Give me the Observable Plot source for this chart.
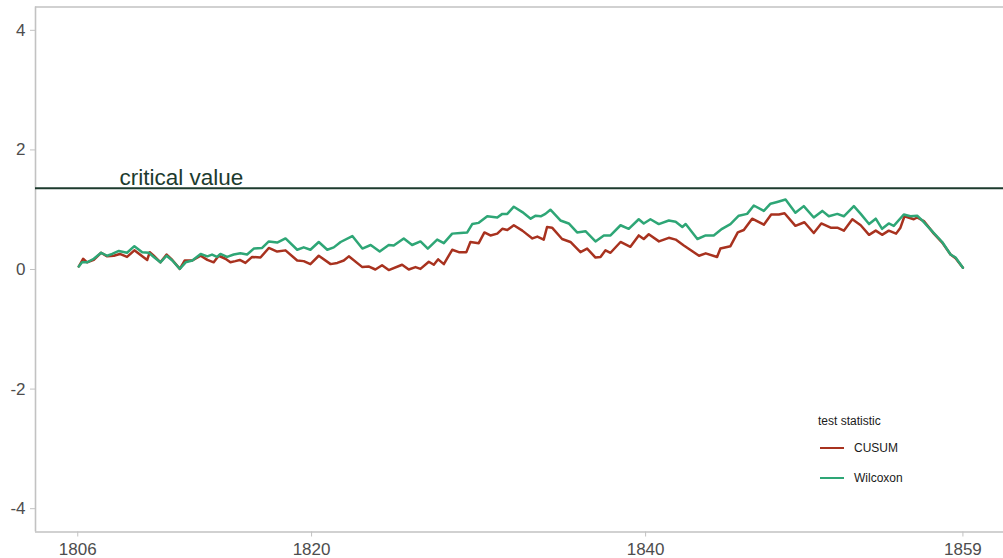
<!DOCTYPE html>
<html>
<head>
<meta charset="utf-8">
<script src="https://cdn.jsdelivr.net/npm/d3@7"></script>
<script src="https://cdn.jsdelivr.net/npm/@observablehq/plot@0.6"></script>
<style>
  html, body { margin: 0; padding: 0; background: #fff; }
  #chart { position: relative; width: 1003px; height: 558px; font-family: "Liberation Sans", Arial, sans-serif; }
  #legend { position: absolute; left: 818px; top: 414px; font-size: 12px; color: #1a1a1a; }
  #legend .title { margin-bottom: 5px; }
  #legend .item { display: flex; align-items: center; height: 30px; }
  #legend .swatch { width: 24px; height: 2.5px; margin-left: 2px; margin-right: 10px; }
</style>
</head>
<body>
<div id="chart"></div>
<script>
// Structural-change test statistics, 1806–1859
const cusumYears = [
  1806.06, 1806.32, 1806.56, 1806.96, 1807.40, 1807.76, 1808.16, 1808.52, 1808.95, 1809.39,
  1810.16, 1810.31, 1810.55, 1810.95, 1811.32, 1811.66, 1812.11, 1812.40, 1812.86, 1813.36,
  1813.76, 1814.14, 1814.44, 1814.84, 1815.14, 1815.44, 1815.70, 1816.04, 1816.44, 1816.94,
  1817.44, 1817.94, 1818.44, 1819.14, 1819.53, 1819.93, 1820.43, 1821.14, 1821.54, 1821.93,
  1822.23, 1823.04, 1823.44, 1823.82, 1824.22, 1824.62, 1825.42, 1825.82, 1826.22, 1826.52,
  1827.02, 1827.32, 1827.58, 1827.92, 1828.42, 1828.82, 1829.27, 1829.51, 1830.01, 1830.35,
  1830.71, 1831.12, 1831.42, 1831.72, 1832.11, 1832.62, 1833.22, 1833.52, 1833.90, 1834.10,
  1834.40, 1835.00, 1835.50, 1836.10, 1836.50, 1837.00, 1837.30, 1837.60, 1837.90, 1838.50,
  1839.09, 1839.59, 1839.89, 1840.19, 1840.80, 1841.39, 1841.80, 1842.29, 1843.20, 1843.60,
  1844.28, 1844.48, 1845.08, 1845.52, 1845.88, 1846.38, 1847.08, 1847.52, 1847.98, 1848.32,
  1848.97, 1849.51, 1850.07, 1850.52, 1851.08, 1851.48, 1851.87, 1852.38, 1852.88, 1853.38,
  1853.78, 1854.16, 1854.56, 1855.00, 1855.26, 1855.50, 1856.06, 1856.26, 1856.66, 1857.26,
  1857.76, 1858.26, 1858.56, 1859.00
];
const cusumValues = [
  0.05, 0.18, 0.12, 0.16, 0.28, 0.22, 0.23, 0.26, 0.21, 0.32,
  0.16, 0.29, 0.23, 0.12, 0.25, 0.16, 0.01, 0.15, 0.15, 0.23,
  0.16, 0.12, 0.23, 0.18, 0.12, 0.14, 0.16, 0.11, 0.21, 0.20,
  0.36, 0.30, 0.32, 0.15, 0.14, 0.09, 0.23, 0.09, 0.11, 0.15,
  0.22, 0.04, 0.05, 0.00, 0.07, -0.01, 0.08, 0.00, 0.04, 0.01,
  0.13, 0.08, 0.17, 0.09, 0.33, 0.29, 0.29, 0.46, 0.44, 0.62,
  0.57, 0.60, 0.68, 0.66, 0.74, 0.65, 0.52, 0.55, 0.50, 0.71,
  0.70, 0.51, 0.46, 0.29, 0.35, 0.20, 0.21, 0.32, 0.28, 0.46,
  0.38, 0.57, 0.51, 0.59, 0.47, 0.53, 0.50, 0.40, 0.23, 0.27,
  0.21, 0.35, 0.39, 0.62, 0.66, 0.85, 0.75, 0.92, 0.92, 0.94,
  0.73, 0.79, 0.61, 0.77, 0.70, 0.70, 0.65, 0.84, 0.74, 0.58,
  0.65, 0.58, 0.65, 0.60, 0.70, 0.89, 0.84, 0.87, 0.81, 0.60,
  0.45, 0.25, 0.19, 0.03
];

const wilcoxonYears = [
  1806.06, 1806.26, 1806.56, 1806.96, 1807.40, 1807.76, 1808.06, 1808.46, 1808.95, 1809.39,
  1809.86, 1810.25, 1810.55, 1810.95, 1811.32, 1811.66, 1812.11, 1812.46, 1812.86, 1813.36,
  1813.76, 1814.04, 1814.34, 1814.54, 1814.94, 1815.34, 1815.74, 1816.14, 1816.54, 1817.04,
  1817.44, 1817.94, 1818.44, 1819.14, 1819.53, 1819.93, 1820.43, 1820.94, 1821.33, 1821.74,
  1822.44, 1823.04, 1823.54, 1824.08, 1824.62, 1824.92, 1825.52, 1826.02, 1826.52, 1826.96,
  1827.52, 1827.92, 1828.42, 1828.91, 1829.32, 1829.62, 1830.01, 1830.52, 1831.12, 1831.42,
  1831.72, 1832.11, 1832.62, 1833.12, 1833.42, 1833.72, 1834.00, 1834.30, 1834.90, 1835.40,
  1835.90, 1836.40, 1837.00, 1837.50, 1837.90, 1838.50, 1838.99, 1839.59, 1839.89, 1840.29,
  1840.79, 1841.39, 1841.80, 1842.20, 1842.40, 1843.10, 1843.60, 1844.08, 1844.58, 1845.08,
  1845.58, 1846.08, 1846.48, 1847.08, 1847.48, 1847.88, 1848.38, 1848.97, 1849.47, 1850.07,
  1850.58, 1850.97, 1851.48, 1851.87, 1852.47, 1852.88, 1853.38, 1853.78, 1854.16, 1854.56,
  1854.86, 1855.46, 1855.86, 1856.26, 1856.56, 1857.26, 1857.76, 1858.26, 1858.56, 1859.00
];
const wilcoxonValues = [
  0.05, 0.12, 0.12, 0.18, 0.28, 0.23, 0.26, 0.31, 0.28, 0.39,
  0.29, 0.28, 0.21, 0.12, 0.23, 0.15, 0.01, 0.12, 0.15, 0.26,
  0.22, 0.25, 0.21, 0.26, 0.21, 0.25, 0.27, 0.25, 0.35, 0.36,
  0.47, 0.45, 0.52, 0.33, 0.37, 0.33, 0.46, 0.33, 0.37, 0.46,
  0.56, 0.35, 0.41, 0.30, 0.41, 0.40, 0.52, 0.41, 0.47, 0.35,
  0.50, 0.44, 0.60, 0.61, 0.62, 0.76, 0.78, 0.89, 0.87, 0.93,
  0.93, 1.05, 0.96, 0.85, 0.90, 0.89, 0.93, 1.00, 0.82, 0.77,
  0.62, 0.64, 0.47, 0.57, 0.57, 0.74, 0.68, 0.84, 0.77, 0.84,
  0.76, 0.82, 0.80, 0.71, 0.76, 0.51, 0.57, 0.57, 0.68, 0.76,
  0.90, 0.93, 1.07, 0.98, 1.10, 1.13, 1.17, 0.95, 1.06, 0.87,
  0.98, 0.89, 0.93, 0.89, 1.06, 0.93, 0.76, 0.85, 0.68, 0.77,
  0.73, 0.92, 0.89, 0.90, 0.82, 0.61, 0.46, 0.25, 0.20, 0.03
];

const seriesNames = ["CUSUM", "Wilcoxon"];
const seriesColors = ["#a8321f", "#2ea676"];
const criticalValue = 1.358;
const criticalLabel = "critical value";
const criticalLabelYear = 1812.2;
const xTicks = [1806, 1820, 1840, 1859];
const yTicks = [-4, -2, 0, 2, 4];
const xDomain = [1803.47, 1861.43];
const yDomain = [-4.39, 4.39];

const rows = [
  ...cusumYears.map((t, i) => ({series: seriesNames[0], year: t, value: cusumValues[i]})),
  ...wilcoxonYears.map((t, i) => ({series: seriesNames[1], year: t, value: wilcoxonValues[i]}))
];

const axisGrey = "#c2c2c2";
const labelGrey = "#4d4d4d";
const critColor = "#1d3b2e";

const chart = Plot.plot({
  width: 1003,
  height: 558,
  marginLeft: 35,
  marginRight: 0,
  marginTop: 6.5,
  marginBottom: 26.5,
  style: {fontFamily: "'Liberation Sans', Arial, sans-serif", fontSize: "17px", background: "#fff"},
  x: {domain: xDomain},
  y: {domain: yDomain},
  color: {domain: seriesNames, range: seriesColors},
  marks: [
    // frame: left, top and bottom edges
    Plot.ruleX([xDomain[0]], {stroke: axisGrey, strokeWidth: 1.6}),
    Plot.ruleY([yDomain[1]], {stroke: axisGrey, strokeWidth: 1.6}),
    Plot.ruleY([yDomain[0]], {stroke: axisGrey, strokeWidth: 1.6}),
    Plot.axisX({ticks: xTicks, tickFormat: d => String(d), tickSize: 5, tickPadding: 6,
      stroke: axisGrey, fill: labelGrey, label: null}),
    Plot.axisY({ticks: yTicks, tickFormat: d => String(d), tickSize: 5, tickPadding: 5,
      stroke: axisGrey, fill: labelGrey, label: null}),
    Plot.line(rows, {x: "year", y: "value", z: "series", stroke: "series", strokeWidth: 2.5}),
    Plot.ruleY([criticalValue], {stroke: critColor, strokeWidth: 2}),
    Plot.text([criticalLabel], {x: criticalLabelYear, y: criticalValue, text: d => d,
      fill: critColor, fontSize: 22.5, lineAnchor: "bottom", dy: -3})
  ]
});

const root = document.getElementById("chart");
root.appendChild(chart);

// legend for the two test statistics
const legend = document.createElement("div");
legend.id = "legend";
const title = document.createElement("div");
title.className = "title";
title.textContent = "test statistic";
legend.appendChild(title);
seriesNames.forEach((name, i) => {
  const item = document.createElement("div");
  item.className = "item";
  const sw = document.createElement("div");
  sw.className = "swatch";
  sw.style.background = seriesColors[i];
  const lab = document.createElement("span");
  lab.textContent = name;
  item.appendChild(sw);
  item.appendChild(lab);
  legend.appendChild(item);
});
root.appendChild(legend);
</script>
</body>
</html>
